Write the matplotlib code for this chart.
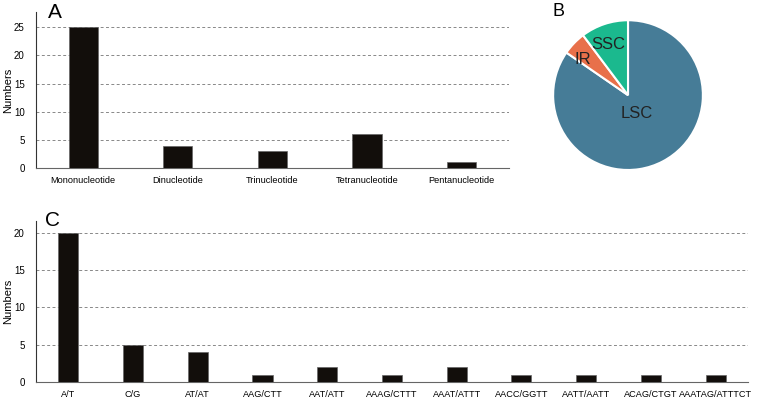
import matplotlib
matplotlib.use("Agg")
import matplotlib.pyplot as plt
import numpy as np

plt.rcParams['font.family'] = ['Liberation Sans', 'DejaVu Sans']

# panel A: SSR types
typeNames = ['Mononucleotide', 'Dinucleotide', 'Trinucleotide', 'Tetranucleotide', 'Pentanucleotide']
typeCounts = [25, 4, 3, 6, 1]

# panel B: location
regionNames = ['LSC', 'IR', 'SSC']
regionCounts = [33, 2, 4]
regionColors = ['#467c97', '#e8704a', '#1bb98e']

# panel C: motifs
motifNames = ['A/T', 'C/G', 'AT/AT', 'AAG/CTT', 'AAT/ATT', 'AAAG/CTTT', 'AAAT/ATTT',
              'AACC/GGTT', 'AATT/AATT', 'ACAG/CTGT', 'AAATAG/ATTTCT']
motifCounts = [20, 5, 4, 1, 2, 1, 2, 1, 1, 1, 1]

fig = plt.figure(figsize=(7.64, 4.03), dpi=100)


def barPanel(ax, names, vals, ticks, top, letter, lx):
    x = np.arange(len(names))
    ax.set_axisbelow(True)
    ax.yaxis.grid(True, linestyle=(0, (3, 2.5)), color='#888888', linewidth=0.7)
    ax.bar(x, vals, width=0.31, color='#120e0b', edgecolor='#666666', linewidth=0.5, zorder=3)
    ax.set_xlim(-0.5, len(names) - 0.5)
    ax.set_ylim(0, top)
    ax.set_yticks(ticks)
    ax.set_xticks(x)
    ax.set_xticklabels(names)
    ax.tick_params(axis='x', length=0, labelsize=6.6, pad=6)
    ax.tick_params(axis='y', length=0, labelsize=7, pad=8)
    for s in ['top', 'right']:
        ax.spines[s].set_visible(False)
    ax.spines['left'].set_color('#333333')
    ax.spines['bottom'].set_color('#666666')
    ax.set_ylabel('Numbers', fontsize=8, labelpad=1)
    ax.text(lx, 1.0, letter, transform=ax.transAxes, fontsize=15, va='center', ha='left')
    ax.get_ygridlines()[0].set_visible(False)


axA = fig.add_axes([0.047, 0.583, 0.619, 0.387])
barPanel(axA, typeNames, typeCounts, [0, 5, 10, 15, 20, 25], 27.7, 'A', 0.025)

axC = fig.add_axes([0.047, 0.052, 0.932, 0.400])
barPanel(axC, motifNames, motifCounts, [0, 5, 10, 15, 20], 21.6, 'C', 0.013)

axB = fig.add_axes([0.724, 0.578, 0.196, 0.372])
wedges, _ = axB.pie(regionCounts, colors=regionColors, startangle=90, counterclock=False,
                    wedgeprops=dict(edgecolor='white', linewidth=1.5))
axB.set_xlim(-1.0, 1.0)
axB.set_ylim(-1.0, 1.0)
axB.set_aspect('equal')
axB.text(0.12, -0.24, 'LSC', fontsize=12, color='#222222', ha='center', va='center')
axB.text(-0.6, 0.47, 'IR', fontsize=12, color='#222222', ha='center', va='center')
axB.text(-0.27, 0.68, 'SSC', fontsize=12, color='#222222', ha='center', va='center')
fig.text(553 / 764, 1 - 12 / 403, 'B', fontsize=13, ha='left', va='center')

fig.savefig('out.png', dpi=100)
